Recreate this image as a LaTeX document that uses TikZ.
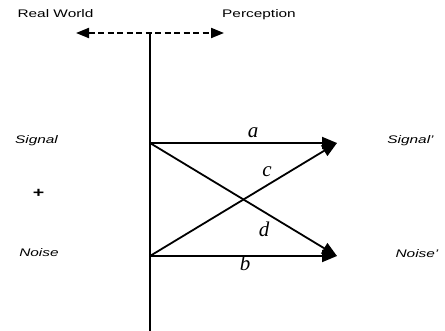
\documentclass[tikz,border=0pt]{standalone}
\usepackage{fontspec}
\setmainfont{Liberation Sans}[FakeStretch=1.4]
\newfontfamily\letterfont{Liberation Serif}
\usepackage{tikz}
\usetikzlibrary{arrows.meta, positioning, calc}
\definecolor{mydark}{RGB}{0,0,0}
\tikzset{
  lbl/.style={anchor=base, font=\fontsize{11}{13}\selectfont, inner sep=0pt},
  itlbl/.style={anchor=base, font=\fontsize{11}{13}\selectfont\itshape, inner sep=0pt},
  letter/.style={font=\letterfont\fontsize{21}{22}\selectfont\itshape, inner sep=0pt},
  arrow/.style={-{Triangle[length=15pt, width=12pt]}, line width=1.8pt, color=mydark},
  dasharrow/.style={{Triangle[length=13pt, width=10pt]}-{Triangle[length=13pt, width=10pt]},
    line width=2pt, dash pattern=on 6pt off 3.5pt, color=mydark},
  line/.style={line width=1.2pt, color=mydark}
}
\begin{document}
\begin{tikzpicture}[x=1pt, y=-1pt]
  \useasboundingbox (0,0) rectangle (445,331);
  % headings and divider
  \node[lbl] (realworld) at (55.5,18) {Real World};
  \node[lbl] (perception) at (259,18) {Perception};
  \coordinate (top) at (150,33);
  \coordinate (bottom) at (150,331);
  \coordinate (leftend) at (76,33);
  \coordinate (rightend) at (224,33);
  \draw[dasharrow] (leftend) -- (rightend);
  \draw[line] (top) -- (bottom);
  % inputs and outputs
  \node[itlbl] (signal) at (36.5,143.5) {Signal};
  \node[anchor=center, inner sep=0pt, font=\fontsize{14}{15}\selectfont\bfseries] (plus) at (38.5,193) {+};
  \node[itlbl] (noise) at (39,257) {Noise};
  \node[itlbl] (signalp) at (410.5,143.5) {Signal'};
  \node[itlbl] (noisep) at (417,258) {Noise'};
  \coordinate (sigsrc) at (150,143);
  \coordinate (noisrc) at (150,256);
  \coordinate (sigdst) at (337,143);
  \coordinate (noidst) at (337,256);
  \draw[arrow] (sigsrc) -- (sigdst);
  \draw[arrow] (noisrc) -- (noidst);
  \draw[arrow] (noisrc) -- (sigdst);
  \draw[arrow] (sigsrc) -- (noidst);
  \node[letter] (la) at (253,133) {a};
  \node[letter] (lb) at (245,263) {b};
  \node[letter] (lc) at (267,172) {c};
  \node[letter] (ld) at (264,229) {d};
\end{tikzpicture}
\end{document}
